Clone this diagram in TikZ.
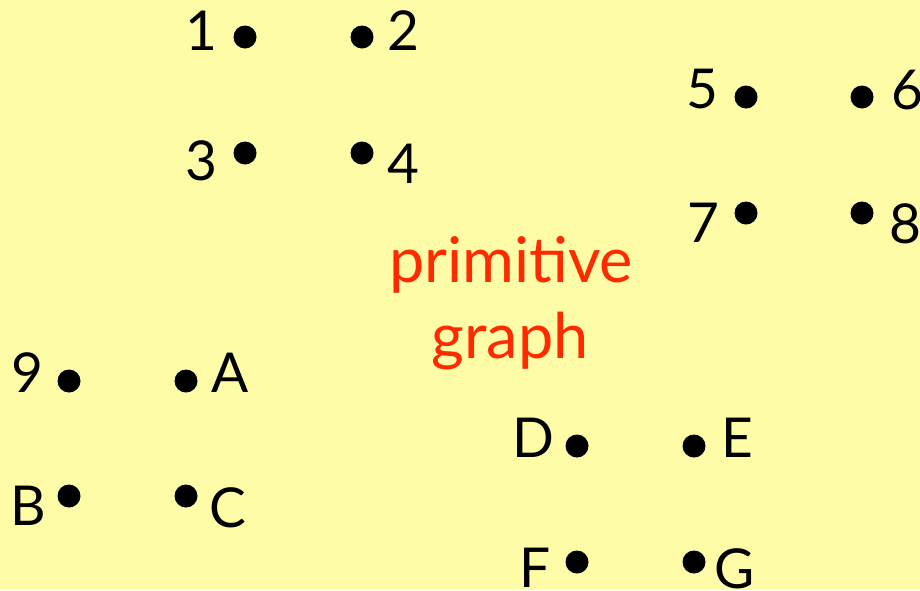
\documentclass[tikz,border=0pt]{standalone}
\usepackage{fontspec}
\setmainfont{Lato}
\definecolor{bgyellow}{HTML}{FFFCA8}
\definecolor{titlered}{HTML}{FF2A00}
\begin{document}
\begin{tikzpicture}[x=1pt,y=-1pt,
  dot/.style={circle,fill=black,minimum size=23pt,inner sep=0pt},
  lbl/.style={anchor=base,inner sep=0pt,font=\fontsize{55}{60}\selectfont},
  ttl/.style={anchor=base,inner sep=0pt,text=titlered,font=\fontsize{63}{60}\selectfont}]
\fill[bgyellow] (0,0) rectangle (920,590);
\useasboundingbox (0,0) rectangle (920,590);
% dots
\node[dot] (d1) at (245,37) {};
\node[dot] (d2) at (362,37) {};
\node[dot] (d3) at (245,153) {};
\node[dot] (d4) at (362,153) {};
\node[dot] (d5) at (746,97) {};
\node[dot] (d6) at (862,97) {};
\node[dot] (d7) at (746,213) {};
\node[dot] (d8) at (862,213) {};
\node[dot] (d9) at (69,381) {};
\node[dot] (dA) at (186,381) {};
\node[dot] (dB) at (69,496) {};
\node[dot] (dC) at (186,496) {};
\node[dot] (dD) at (577,446) {};
\node[dot] (dE) at (694,446) {};
\node[dot] (dF) at (577,562) {};
\node[dot] (dG) at (694,562) {};
% labels
\node[lbl] (l1) at (201,50) {1};
\node[lbl] (l2) at (403,50) {2};
\node[lbl] (l3) at (201,180) {3};
\node[lbl] (l4) at (403,183) {4};
\node[lbl] (l5) at (702,108) {5};
\node[lbl] (l6) at (907,109) {6};
\node[lbl] (l7) at (703,242) {7};
\node[lbl] (l8) at (905,243) {8};
\node[lbl] (l9) at (27,392) {9};
\node[lbl] (lA) at (230,392) {A};
\node[lbl] (lB) at (28,525) {B};
\node[lbl] (lC) at (228,527) {C};
\node[lbl] (lD) at (533,457) {D};
\node[lbl] (lE) at (737,457) {E};
\node[lbl] (lF) at (535,587) {F};
\node[lbl] (lG) at (735,588) {G};
% title
\node[ttl] (t1) at (511,282) {primitive};
\node[ttl] (t2) at (510,358) {graph};
\end{tikzpicture}
\end{document}
